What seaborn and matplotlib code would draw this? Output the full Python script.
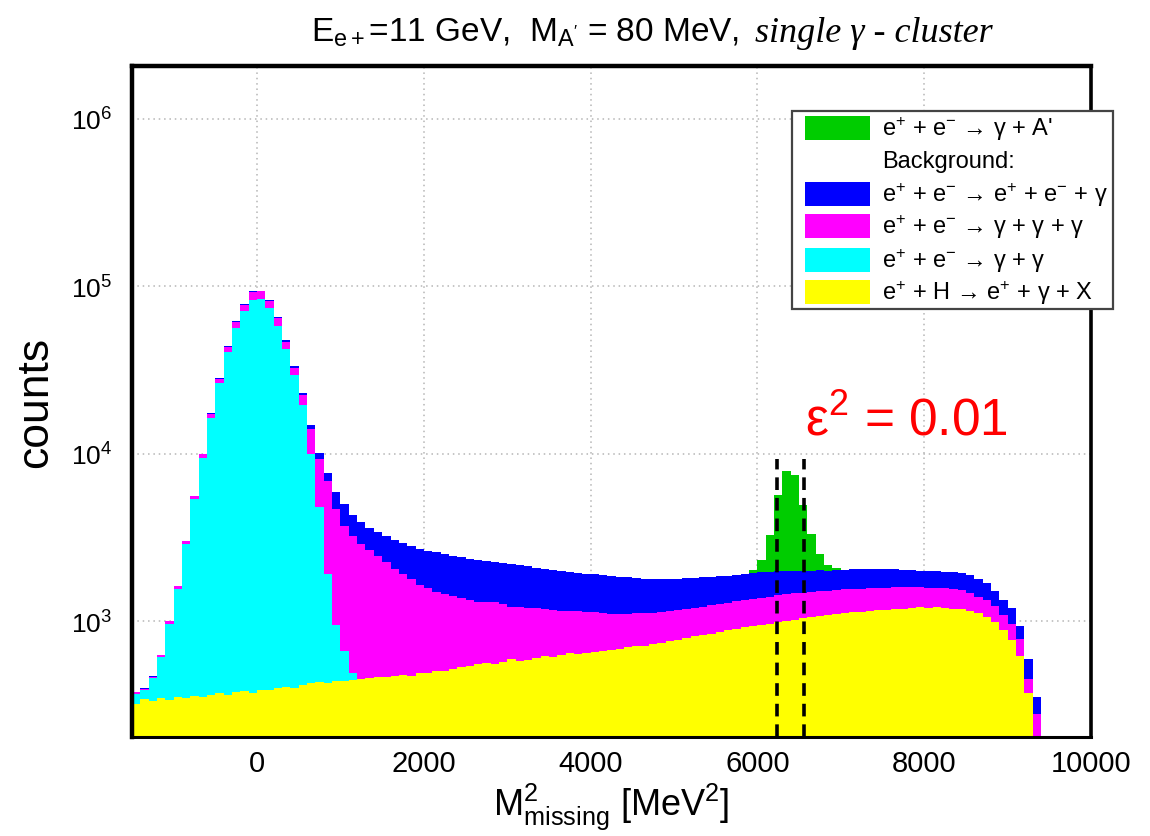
import numpy as np
import pandas as pd
import matplotlib
matplotlib.use("Agg")
import matplotlib.pyplot as plt
import seaborn as sns
from matplotlib.patches import Rectangle
from matplotlib.ticker import FixedLocator, LogLocator, NullFormatter, MultipleLocator

# ---------------- data (counts per 100 MeV^2 bin) ----------------
bin_edges = list(range(-1500, 10001, 100))
bin_centers = list(range(-1450, 10000, 100))

counts_eH = ([320, 340, 335, 345, 338, 350, 345, 355, 350, 362, 370, 360, 375, 380, 372,
              390, 385, 398, 405, 400, 415, 425, 432, 428, 440,
              438, 445, 450, 458, 465, 462, 470, 475, 472, 490,
              488, 500, 505, 520, 530, 540, 552, 565, 556, 570,
              590, 575, 585, 600, 618, 610, 625, 640, 632, 648,
              655, 660, 672, 685, 695, 705, 712, 730, 742, 755,
              770, 790, 810, 825, 840, 862, 885, 900, 915, 935,
              950, 965, 985, 1005, 1020, 1040, 1060, 1075, 1085, 1100,
              1110, 1125, 1130, 1145, 1160, 1170, 1175, 1185, 1195, 1205,
              1200, 1210, 1195, 1185, 1175, 1140, 1110, 1060, 990, 880,
              770, 620, 370, 0, 0, 0, 0, 0, 0, 0])

counts_gg = ([48, 45, 120, 265, 627, 1210, 2535, 4975, 9100, 15940, 25830, 39840, 56130, 70120, 82630,
              83110, 73120, 57600, 41600, 28900, 19090, 9575, 4370, 1470, 510,
              222, 45] + [0] * 88)

counts_ggg = ([7, 10, 11, 18, 30, 50, 115, 230, 480, 950, 1750, 3000, 4700, 6500, 9200,
               9300, 8000, 6500, 4600, 3300, 2900, 4000, 4500, 5000, 3700,
               3040, 2710, 2450, 2190, 1985, 1788, 1580, 1425, 1308, 1160,
               1092, 1000, 945, 890, 840, 790, 748, 725, 734, 690,
               630, 635, 615, 590, 562, 555, 525, 510, 508, 487,
               470, 450, 433, 415, 405, 405, 403, 390, 383, 385,
               390, 390, 390, 395, 400, 398, 400, 410, 415, 420,
               430, 435, 445, 440, 440, 440, 440, 440, 435, 435,
               435, 425, 425, 420, 415, 415, 415, 405, 400, 385,
               385, 370, 375, 370, 355, 330, 290, 270, 240, 200,
               190, 160, 80, 280, 0, 0, 0, 0, 0, 0])

counts_eeg = ([1, 1, 2, 2, 5, 10, 25, 40, 70, 150, 250, 400, 500, 600, 800,
               800, 800, 800, 800, 800, 600, 900, 800, 800, 1250,
               1300, 1100, 1000, 950, 950, 950, 1000, 1020, 1040, 1050,
               1050, 1080, 1070, 1050, 1030, 1020, 1000, 990, 960, 960,
               970, 940, 930, 890, 870, 845, 840, 810, 790, 775,
               775, 770, 755, 740, 730, 690, 675, 660, 655, 645,
               630, 620, 615, 610, 600, 590, 575, 570, 570, 575,
               570, 565, 550, 545, 535, 520, 500, 495, 480, 485,
               485, 490, 495, 475, 475, 460, 450, 440, 425, 410,
               405, 400, 400, 395, 400, 400, 390, 350, 290, 250,
               230, 150, 140, 70, 0, 0, 0, 0, 0, 0])

counts_Aprime = ([0] * 74 + [80, 350, 1300, 3700, 5850, 5400, 2900, 1300, 500, 150, 40] + [0] * 30)

process_labels = ["e$^{+}$ + e$^{-}$ → γ + A'",
                  "e$^{+}$ + e$^{-}$ → e$^{+}$ + e$^{-}$ + γ",
                  "e$^{+}$ + e$^{-}$ → γ + γ + γ",
                  "e$^{+}$ + e$^{-}$ → γ + γ",
                  "e$^{+}$ + H → e$^{+}$ + γ + X"]
process_colors = ["#00cc00", "#0000ff", "#ff00ff", "#00ffff", "#ffff00"]
series = [counts_Aprime, counts_eeg, counts_ggg, counts_gg, counts_eH]

cut_window = [6230, 6560]
cut_top = 9300
eps_text = "ε$^{2}$ = 0.01"

# ---------------- style ----------------
sns.set_theme(style="white")
plt.rcParams['font.family'] = ['Liberation Sans', 'DejaVu Sans']
plt.rcParams['mathtext.fontset'] = 'custom'
plt.rcParams['mathtext.rm'] = 'Liberation Sans'
plt.rcParams['mathtext.it'] = 'Liberation Sans:italic'
plt.rcParams['mathtext.bf'] = 'Liberation Sans:bold'
plt.rcParams['mathtext.sf'] = 'Liberation Sans'
plt.rcParams['text.color'] = 'black'
plt.rcParams['xtick.labelcolor'] = 'black'
plt.rcParams['ytick.labelcolor'] = 'black'

W, H = 1150, 837
fig = plt.figure(figsize=(W / 100, H / 100), dpi=100)


def fx(px):
    return px / W


def fy(py):
    return 1 - py / H


ax = fig.add_axes([fx(132), fy(738), fx(1091) - fx(132), fy(67) - fy(738)])

frames = []
for lab, cnt in zip(process_labels, series):
    frames.append(pd.DataFrame({"m2": bin_centers, "counts": cnt, "process": lab}))
df = pd.concat(frames, ignore_index=True)

sns.histplot(data=df, x="m2", weights="counts", hue="process",
             hue_order=process_labels, palette=dict(zip(process_labels, process_colors)),
             multiple="stack", bins=bin_edges, element="step", fill=True,
             alpha=1, linewidth=0, legend=False, ax=ax)

ax.set_yscale('log')
ax.set_xlim(-1500, 10000)
ax.set_ylim(203, 2.06e6)
ax.set_xlabel("")
ax.set_ylabel("")

# cut lines
ax.vlines(cut_window, ymin=203, ymax=cut_top, colors='black',
          linestyles=(0, (3.5, 2.2)), linewidth=2.6, zorder=4)

# ticks
ax.xaxis.set_major_locator(FixedLocator([0, 2000, 4000, 6000, 8000, 10000]))
ax.set_xticklabels(["0", "2000", "4000", "6000", "8000", "10000"])
ax.xaxis.set_minor_locator(MultipleLocator(500))
ax.yaxis.set_major_locator(FixedLocator([1e3, 1e4, 1e5, 1e6]))
ax.set_yticklabels([r"$10^{3}$", r"$10^{4}$", r"$10^{5}$", r"$10^{6}$"])
ax.yaxis.set_minor_locator(LogLocator(base=10, subs=np.arange(2, 10)))
ax.yaxis.set_minor_formatter(NullFormatter())
ax.tick_params(axis='x', which='major', direction='in', length=16, width=1.2,
               labelsize=21, pad=9, color='#222222')
ax.tick_params(axis='x', which='minor', direction='in', length=8, width=1.0, color='#222222')
ax.tick_params(axis='y', which='major', direction='in', length=22, width=1.6,
               labelsize=19, pad=14, color='#333333')
ax.tick_params(axis='y', which='minor', direction='in', length=13, width=1.6, color='#333333')
ax.grid(True, which='major', color='#b5b5b5', linestyle=(0, (1, 2.5)), linewidth=1.1)
ax.set_axisbelow(True)

for side, lw in [('left', 3.2), ('top', 3.2), ('right', 2.6), ('bottom', 2.2)]:
    ax.spines[side].set_visible(True)
    ax.spines[side].set_color('black')
    ax.spines[side].set_linewidth(lw)

# epsilon annotation
ax.text(0.702, 0.4516, eps_text, transform=ax.transAxes, color='#ff0000',
        fontsize=37, va='baseline', ha='left')

# axis labels
fig.text(fx(611), fy(815), r"M$^{2}_{\mathregular{missing}}$ [MeV$^{2}$]", ha='center',
         va='baseline', fontsize=26)
fig.text(fx(36), fy(402), "counts", rotation=90, ha='center', va='center', fontsize=32)

# title (sans part + italic serif part)
part1 = r"E$_{\mathregular{e+}}$=11 GeV,  M$_{\mathregular{A'}}$ = 80 MeV,"
part2 = "single γ - cluster"
t1 = fig.text(0, fy(42), part1, fontsize=24, va='baseline', ha='left')
t2 = fig.text(0, fy(42), part2, fontsize=26, va='baseline', ha='left',
              family=['Liberation Serif', 'DejaVu Serif'], style='italic')
fig.canvas.draw()
r = fig.canvas.get_renderer()
w1 = t1.get_window_extent(r).width
w2 = t2.get_window_extent(r).width
gap = 16
total = w1 + gap + w2
x0 = 652 - total / 2
t1.set_x(fx(x0))
t2.set_x(fx(x0 + w1 + gap))

# legend (drawn manually, ROOT style)
fig.add_artist(Rectangle((fx(792), fy(310)), fx(1113) - fx(792), fy(112) - fy(310),
                         transform=fig.transFigure, facecolor='white',
                         edgecolor='#444444', linewidth=1.6, zorder=10))
row_y = [129, 195, 227, 261, 293]
for yy, lab, col in zip(row_y, process_labels, process_colors):
    fig.add_artist(Rectangle((fx(805), fy(yy + 12)), fx(870) - fx(805), 24 / H,
                             transform=fig.transFigure, facecolor=col,
                             edgecolor='none', zorder=11))
    fig.text(fx(882), fy(yy), lab, fontsize=17, va='center', ha='left', zorder=12)
fig.text(fx(882), fy(162), "Background:", fontsize=17, va='center', ha='left', zorder=12)

fig.savefig("out.png", dpi=100)
